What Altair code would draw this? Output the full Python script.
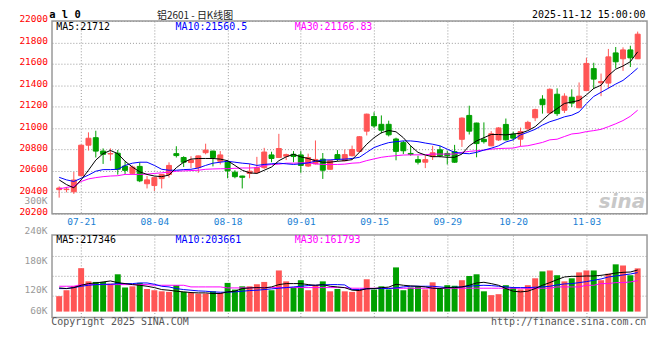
import altair as alt
import pandas as pd

# ---------------- data ----------------
DATES = ["07-16","07-17","07-18","07-21","07-22","07-23","07-24","07-25","07-28","07-29","07-30","07-31",
         "08-01","08-04","08-05","08-06","08-07","08-08","08-11","08-12","08-13","08-14","08-15","08-18",
         "08-19","08-20","08-21","08-22","08-25","08-26","08-27","08-28","08-29",
         "09-01","09-02","09-03","09-04","09-05","09-08","09-09","09-10","09-11","09-12","09-15","09-16",
         "09-17","09-18","09-19","09-22","09-23","09-24","09-25","09-26","09-29","09-30",
         "10-09","10-10","10-13","10-14","10-15","10-16","10-17","10-20","10-21","10-22","10-23","10-24",
         "10-27","10-28","10-29","10-30","10-31",
         "11-03","11-04","11-05","11-06","11-07","11-10","11-11","11-12"]

OPEN = [20425, 20425, 20405, 20555, 20840, 20910, 20785, 20758, 20765, 20645,
        20577, 20642, 20480, 20463, 20528, 20567, 20761, 20725, 20678, 20630,
        20770, 20785, 20690, 20681, 20588, 20552, 20576, 20585, 20630, 20749,
        20725, 20737, 20755, 20749, 20645, 20666, 20710, 20615, 20752, 20695,
        20742, 20782, 20971, 21108, 21035, 21035, 20898, 20864, 20763, 20705,
        20681, 20733, 20797, 20763, 20779, 20895, 21118, 21047, 20895, 20834,
        20889, 21034, 20942, 20896, 20994, 21096, 21270, 21141, 21316, 21166,
        21288, 21190, 21350, 21555, 21423, 21420, 21702, 21647, 21730, 21647]
HIGH = [20455, 20450, 20590, 20845, 20960, 20975, 20810, 20810, 20795, 20690,
        20650, 20680, 20552, 20545, 20570, 20680, 20830, 20737, 20737, 20742,
        20854, 20788, 20785, 20701, 20606, 20555, 20666, 20731, 20815, 20779,
        20946, 20761, 20785, 20785, 20761, 20884, 20767, 20700, 20794, 20800,
        20836, 20925, 21135, 21148, 21118, 21069, 20910, 20880, 20834, 20742,
        20742, 20834, 20834, 20788, 20843, 21100, 21209, 21050, 21053, 20971,
        21008, 21089, 20967, 21004, 21068, 21181, 21307, 21371, 21371, 21325,
        21362, 21426, 21656, 21610, 21509, 21739, 21757, 21754, 21769, 21901]
LOW = [20350, 20400, 20385, 20550, 20790, 20725, 20665, 20695, 20565, 20570,
       20565, 20495, 20436, 20412, 20436, 20537, 20725, 20636, 20627, 20582,
       20755, 20642, 20660, 20531, 20531, 20436, 20531, 20576, 20620, 20681,
       20720, 20701, 20681, 20582, 20636, 20660, 20525, 20612, 20690, 20690,
       20734, 20770, 20931, 21001, 20950, 20922, 20699, 20757, 20742, 20660,
       20626, 20702, 20727, 20660, 20675, 20824, 20940, 20727, 20855, 20830,
       20880, 20884, 20884, 20829, 20982, 21065, 21135, 21135, 21114, 21141,
       21197, 21185, 21344, 21365, 21298, 21371, 21558, 21534, 21570, 21645]
CLOSE = [20440, 20430, 20515, 20840, 20905, 20785, 20755, 20762, 20615, 20605,
         20636, 20507, 20516, 20537, 20567, 20651, 20743, 20681, 20701, 20740,
         20794, 20725, 20749, 20600, 20546, 20540, 20597, 20630, 20776, 20716,
         20809, 20752, 20734, 20651, 20725, 20707, 20606, 20695, 20710, 20752,
         20800, 20919, 21130, 21020, 20980, 20937, 20782, 20788, 20754, 20681,
         20705, 20769, 20742, 20742, 20681, 21093, 20971, 20855, 20873, 20947,
         21001, 20890, 20906, 20967, 21053, 21172, 21218, 21362, 21135, 21298,
         21233, 21298, 21604, 21457, 21435, 21665, 21619, 21730, 21656, 21877]

MA5 = [20516, 20472, 20442, 20516, 20606, 20701, 20761, 20791, 20761, 20690,
       20636, 20591, 20567, 20552, 20546, 20561, 20630, 20681, 20710, 20716,
       20716, 20716, 20710, 20695, 20651, 20606, 20582, 20576, 20606, 20636,
       20695, 20731, 20755, 20731, 20716, 20695, 20681, 20681, 20690, 20695,
       20705, 20773, 20849, 20910, 20956, 20977, 20965, 20910, 20834, 20773,
       20748, 20733, 20733, 20727, 20727, 20757, 20834, 20880, 20910, 20940,
       20940, 20936, 20945, 20952, 20976, 21013, 21074, 21135, 21181, 21230,
       21243, 21258, 21310, 21370, 21400, 21490, 21550, 21580, 21620, 21712]
MA10 = [20540, 20516, 20501, 20531, 20561, 20597, 20612, 20612, 20615, 20651,
        20672, 20681, 20681, 20651, 20615, 20606, 20606, 20612, 20615, 20627,
        20651, 20672, 20681, 20690, 20681, 20672, 20666, 20651, 20660, 20666,
        20672, 20666, 20660, 20666, 20675, 20690, 20701, 20703, 20707, 20710,
        20716, 20727, 20773, 20818, 20843, 20864, 20873, 20880, 20880, 20873,
        20860, 20849, 20834, 20803, 20773, 20765, 20760, 20773, 20794, 20812,
        20834, 20870, 20890, 20936, 20961, 20988, 21028, 21059, 21080, 21105,
        21120, 21151, 21227, 21295, 21334, 21372, 21411, 21445, 21500, 21560]
MA30 = [20433, 20445, 20457, 20501, 20525, 20537, 20546, 20552, 20555, 20567,
        20567, 20567, 20570, 20576, 20582, 20588, 20597, 20600, 20603, 20606,
        20615, 20618, 20620, 20621, 20624, 20627, 20627, 20630, 20651, 20660,
        20663, 20672, 20672, 20675, 20675, 20666, 20660, 20660, 20660, 20663,
        20672, 20676, 20696, 20712, 20727, 20736, 20742, 20748, 20750, 20750,
        20751, 20757, 20757, 20757, 20757, 20773, 20782, 20788, 20794, 20803,
        20809, 20811, 20813, 20829, 20835, 20850, 20866, 20890, 20896, 20921,
        20945, 20952, 20967, 20976, 20988, 21013, 21040, 21070, 21110, 21167]

VOLUME = [80500, 111600, 134000, 227000, 158000, 155000, 155000, 146000, 195000, 126000,
          132000, 150000, 118000, 111600, 106000, 103000, 138000, 103000, 98000, 94000,
          94000, 106000, 98000, 150000, 115000, 132000, 132000, 143000, 155000, 111600,
          215000, 158000, 126000, 164000, 111600, 138000, 158000, 106000, 118000, 106000,
          103000, 115000, 169000, 115000, 132000, 116000, 231000, 111600, 126000, 132000,
          116000, 153000, 119000, 138000, 135000, 164000, 186000, 195000, 106000, 86000,
          91000, 138000, 126000, 116000, 138000, 174000, 210000, 215000, 190000, 158000,
          174000, 205000, 215000, 215000, 164000, 198000, 247000, 241000, 190000, 226000]
VOL_MA5 = [123800, 120300, 125500, 137600, 146300, 149700, 154900, 160100, 151500, 146300,
           141100, 137600, 132400, 125500, 115100, 111700, 106500, 103000, 99500, 97800,
           97800, 94400, 94400, 103000, 106500, 120300, 123800, 125500, 123800, 129000,
           141100, 146300, 146300, 146300, 141100, 137600, 141100, 132400, 129000, 125000,
           112000, 110000, 120000, 120300, 125000, 128000, 142800, 137600, 134200, 132400,
           129000, 122100, 120300, 125500, 125500, 129000, 137600, 149700, 153200, 146300,
           137600, 120300, 106500, 103000, 106500, 120300, 137600, 151500, 167100, 180900,
           184400, 184400, 186100, 186100, 189600, 194800, 201700, 205100, 206900, 217346]
VOL_MA10 = [120300, 120300, 125500, 132400, 137600, 141100, 142800, 142800, 146300, 146300,
            146300, 149700, 149700, 142800, 132400, 129000, 120300, 115100, 111700, 108200,
            106500, 103000, 101300, 101300, 103000, 106500, 109900, 111700, 115100, 118600,
            122100, 125500, 129000, 132400, 135900, 137600, 139400, 141100, 141100, 139400,
            115100, 115100, 118600, 120300, 120300, 120300, 123800, 129000, 132400, 132400,
            132400, 132400, 129000, 125500, 127300, 129000, 132400, 135900, 137600, 135900,
            132400, 129000, 125500, 125500, 125500, 127300, 129000, 132400, 139400, 144600,
            146300, 151500, 156700, 163600, 170500, 180900, 186100, 191300, 196500, 203661]
VOL_MA30 = [132400, 132400, 132400, 141100, 141100, 141100, 141100, 141100, 141100, 141100,
            141100, 141100, 141100, 137600, 137600, 137600, 137600, 137600, 129000, 129000,
            129000, 129000, 129000, 123800, 123800, 123800, 123800, 125500, 125500, 125500,
            125500, 125500, 125500, 125500, 125500, 125500, 125500, 125500, 125500, 125500,
            122100, 122100, 122100, 122100, 122100, 122100, 122100, 122100, 122100, 122100,
            122100, 122100, 122100, 122100, 122100, 122100, 122100, 122100, 122100, 122100,
            122100, 122100, 122100, 122100, 122100, 122100, 122100, 122100, 129000, 129000,
            129000, 129000, 137600, 137600, 146300, 146300, 151500, 151500, 154900, 161793]

PRICE_TICKS = [20200, 20400, 20600, 20800, 21000, 21200, 21400, 21600, 21800, 22000]
DATE_TICKS = ["07-21", "08-04", "08-18", "09-01", "09-15", "09-29", "10-20", "11-03"]
VOL_TICK_LABELS = ["300K", "240K", "180K", "120K", "60K"]

TITLE_CODE = "a l 0"
TITLE = "铝2601 - 日K线图"
STAMP = "2025-11-12 15:00:00"
PRICE_MA_LABELS = ["MA5:21712", "MA10:21560.5", "MA30:21166.83"]
VOL_MA_LABELS = ["MA5:217346", "MA10:203661", "MA30:161793"]

# ---------------- build ----------------
RED, GREEN = "#ff5555", "#00a000"
MONO = "DejaVu Sans Mono"
GRID = "#999999"

df = pd.DataFrame({
    "idx": list(range(len(DATES))), "date": DATES,
    "open": OPEN, "high": HIGH, "low": LOW, "close": CLOSE,
    "ma5": MA5, "ma10": MA10, "ma30": MA30,
    "vol": VOLUME, "vma5": VOL_MA5, "vma10": VOL_MA10, "vma30": VOL_MA30,
})
df["dir"] = ["up" if c >= o else "down" for o, c in zip(OPEN, CLOSE)]

tick_idx = [DATES.index(d) for d in DATE_TICKS]
label_expr = " : ".join(f"datum.value == {i} ? '{d}'" for i, d in zip(tick_idx, DATE_TICKS)) + " : ''"

xs = alt.Scale(domain=[-0.3, 79.6], nice=False, zero=False)
price_x_axis = alt.Axis(values=tick_idx, labelExpr=label_expr, labelColor="#1a7fd4", labelFont=MONO,
                        labelFontSize=9.6, labelPadding=3, labelBaseline="top", labelFlush=False,
                        labelOverlap=False, ticks=False, tickSize=0, domain=False, grid=True,
                        gridColor=GRID, gridDash=[1, 2], title=None)
vol_x_axis = alt.Axis(values=tick_idx, labels=False, ticks=False, tickSize=0, domain=False, grid=True,
                      gridColor=GRID, gridDash=[1, 2], title=None)
ps = alt.Scale(domain=[20200, 22000], nice=False, zero=False)
price_y_axis = alt.Axis(values=PRICE_TICKS, format="d", labelColor="#ff0000", labelFont=MONO,
                        labelFontSize=9.6, labelBaseline="middle", labelOffset=-2, labelPadding=4.5,
                        labelFlush=False, labelOverlap=False, ticks=False, tickSize=0, domain=False,
                        grid=True, gridColor=GRID, gridDash=[1, 2], title=None)
vs = alt.Scale(domain=[-31000, 400000], nice=False, zero=False)
vol_y_axis = alt.Axis(values=[83000, 187000, 291000], labels=False, ticks=False, tickSize=0, domain=False,
                      grid=True, gridColor=GRID, gridDash=[1, 2], title=None)

dir_scale = alt.Scale(domain=["up", "down"], range=[RED, GREEN])
color_enc = alt.Color("dir:N", scale=dir_scale, legend=None)
stroke_enc = alt.Stroke("dir:N", scale=dir_scale, legend=None)

base = alt.Chart(df)
px = alt.X("idx:Q", scale=xs, axis=price_x_axis)
vx = alt.X("idx:Q", scale=xs, axis=vol_x_axis)


def py(field):
    return alt.Y(f"{field}:Q", scale=ps, axis=price_y_axis)


def vy(field):
    return alt.Y(f"{field}:Q", scale=vs, axis=vol_y_axis)


def txt(text, x, y, color="black", size=10, align="left", baseline="alphabetic", font=MONO,
        weight="normal", style="normal"):
    return alt.Chart(pd.DataFrame({"t": [text]})).mark_text(
        align=align, baseline=baseline, font=font, fontSize=size, fontWeight=weight,
        fontStyle=style, color=color
    ).encode(x=alt.value(x), y=alt.value(y), text="t:N")


wick = base.mark_rule(strokeWidth=1).encode(x=px, y=py("low"), y2="high:Q", color=color_enc)
body = base.mark_bar(size=5, strokeWidth=1).encode(x=px, y=py("open"), y2="close:Q",
                                                    color=color_enc, stroke=stroke_enc)
l30 = base.mark_line(color="#ff00ff", strokeWidth=1).encode(x=px, y=py("ma30"))
l10 = base.mark_line(color="#0000ff", strokeWidth=1).encode(x=px, y=py("ma10"))
l5 = base.mark_line(color="black", strokeWidth=1).encode(x=px, y=py("ma5"))

price = alt.layer(
    wick, body, l30, l10, l5,
    txt("sina", 597, 188, color="#c8c8c8", size=20, align="right", font="DejaVu Sans",
        weight="bold", style="italic"),
    txt(TITLE_CODE, -2.7, -11, size=10.5, baseline="top", weight="bold"),
    txt(TITLE, 144, -2, color="#222222", size=10, align="center", baseline="alphabetic",
        font="Noto Sans CJK SC"),
    txt(STAMP, 597.5, -11, baseline="top", align="right"),
    txt(PRICE_MA_LABELS[0], 4.3, 9.5),
    txt(PRICE_MA_LABELS[1], 124.3, 9.5, color="#0000ff"),
    txt(PRICE_MA_LABELS[2], 244.3, 9.5, color="#ff00ff"),
).properties(width=599, height=194)

vbars = base.mark_bar(size=6).encode(x=vx, y=vy("vol"), y2=alt.datum(0), color=color_enc)
v30 = base.mark_line(color="#ff00ff", strokeWidth=1).encode(x=vx, y=vy("vma30"))
v10 = base.mark_line(color="#0000ff", strokeWidth=1).encode(x=vx, y=vy("vma10"))
v5 = base.mark_line(color="black", strokeWidth=1).encode(x=vx, y=vy("vma5"))

vol_label_y = [-34.5, -4, 26.5, 55.5, 76]
vol_labels = [txt(t, -4.5, yy, color="#999999", size=9.6, align="right", baseline="middle")
              for t, yy in zip(VOL_TICK_LABELS, vol_label_y)]

volume = alt.layer(
    vbars, v30, v10, v5,
    txt(VOL_MA_LABELS[0], 4.3, 8),
    txt(VOL_MA_LABELS[1], 124.3, 8, color="#0000ff"),
    txt(VOL_MA_LABELS[2], 244.3, 8, color="#ff00ff"),
    *vol_labels,
    txt("Copyright 2025 SINA.COM", -0.7, 91, color="#555555"),
    txt("http://finance.sina.com.cn", 598.3, 91, color="#555555", align="right"),
).properties(width=599, height=83)

chart = alt.vconcat(price, volume, spacing=21.5, bounds="flush").properties(
    padding={"left": 9.3, "top": 0, "right": 4, "bottom": 4},
    background="white",
).configure_view(stroke="#999999", strokeWidth=1.5)

chart.save("out.html", embed_options={"renderer": "svg", "actions": False})
